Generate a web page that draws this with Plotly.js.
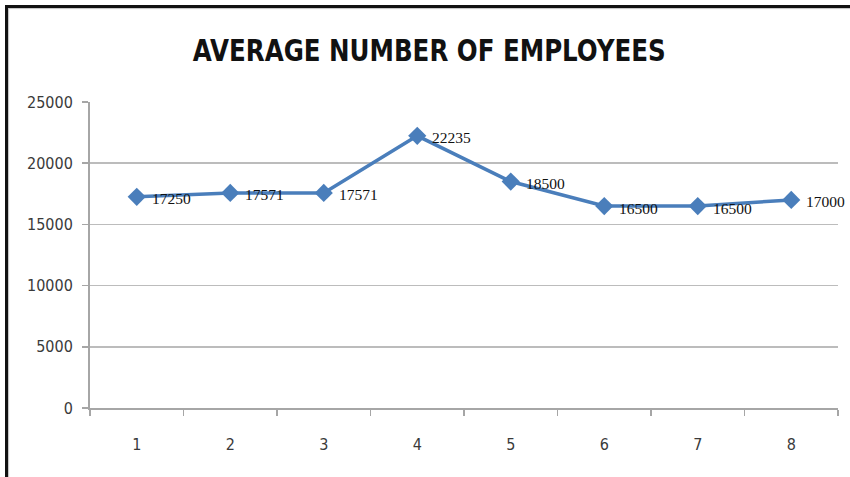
<!DOCTYPE html>
<html>
<head>
<meta charset="utf-8">
<script src="https://cdn.plot.ly/plotly-3.0.1.min.js"></script>
<style>
  html, body { margin: 0; padding: 0; background: #fff; }
  #wrap { position: relative; width: 850px; height: 477px; }
  #chart { width: 850px; height: 477px; }
  #frame { position: absolute; left: 5px; top: 5px; width: 850px; height: 480px;
           border-top: 3px solid #111; border-left: 3px solid #111; pointer-events: none;
           box-shadow: inset 1px 1px 1px rgba(0,0,0,0.25); }
</style>
</head>
<body>
<div id="wrap">
  <div id="chart"></div>
  <div id="frame"></div>
</div>
<script>
const categories = ['1', '2', '3', '4', '5', '6', '7', '8'];
const employees = [17250, 17571, 17571, 22235, 18500, 16500, 16500, 17000];
const yTicks = [0, 5000, 10000, 15000, 20000, 25000];
const chartTitle = 'AVERAGE NUMBER OF EMPLOYEES';

const blue = '#4A7EBB';
const condensed = 'DejaVu Sans Condensed, DejaVu Sans, sans-serif';

const trace = {
  x: categories,
  y: employees,
  type: 'scatter',
  mode: 'lines+markers',
  line: { color: blue, width: 3.5 },
  marker: { symbol: 'diamond', size: 14, color: blue },
  cliponaxis: false,
  hoverinfo: 'x+y'
};

// data labels: x is the category position (index) on the category axis
const labels = categories.map((c, i) => ({
  x: i,
  y: employees[i],
  xref: 'x',
  yref: 'y',
  text: String(employees[i]),
  showarrow: false,
  xanchor: 'left',
  yanchor: 'middle',
  xshift: 13,
  yshift: -2,
  font: { family: 'Liberation Serif, serif', size: 15.5, color: '#111' }
}));

const layout = {
  width: 850,
  height: 477,
  margin: { l: 90, r: 12, t: 102, b: 69 },
  paper_bgcolor: '#fff',
  plot_bgcolor: '#fff',
  showlegend: false,
  annotations: labels,
  title: {
    text: chartTitle,
    font: { family: condensed, size: 31, color: '#111', weight: 'bold' },
    x: 0.505, xanchor: 'center',
    y: 0.895, yanchor: 'middle'
  },
  xaxis: {
    type: 'category',
    range: [-0.5, categories.length - 0.5],
    tickson: 'boundaries',
    ticks: 'outside',
    ticklen: 6,
    tickcolor: '#a6a6a6',
    tickwidth: 1.5,
    showline: true,
    linecolor: '#a6a6a6',
    linewidth: 2,
    showgrid: false,
    zeroline: false,
    ticklabelstandoff: 21,
    tickfont: { family: condensed, size: 16, color: '#3a3a3a' }
  },
  yaxis: {
    range: [0, 25000],
    tickvals: yTicks,
    ticktext: yTicks.map(String),
    ticks: 'outside',
    ticklen: 6,
    tickcolor: '#a6a6a6',
    tickwidth: 1.5,
    showline: true,
    linecolor: '#a6a6a6',
    linewidth: 2,
    showgrid: true,
    gridcolor: '#bcbcbc',
    gridwidth: 1.5,
    zeroline: false,
    ticklabelstandoff: 6,
    tickfont: { family: condensed, size: 16, color: '#3a3a3a' }
  }
};

Plotly.newPlot('chart', [trace], layout, { displayModeBar: false, staticPlot: true }).then(gd => {
  // narrow the title horizontally to mimic the condensed title face of the original
  const t = gd.querySelector('.gtitle');
  if (t) {
    const cx = parseFloat(t.getAttribute('x')) || 0;
    t.setAttribute('transform', `translate(${cx},0) scale(0.88,1) translate(${-cx},0)`);
  }
});
</script>
</body>
</html>
